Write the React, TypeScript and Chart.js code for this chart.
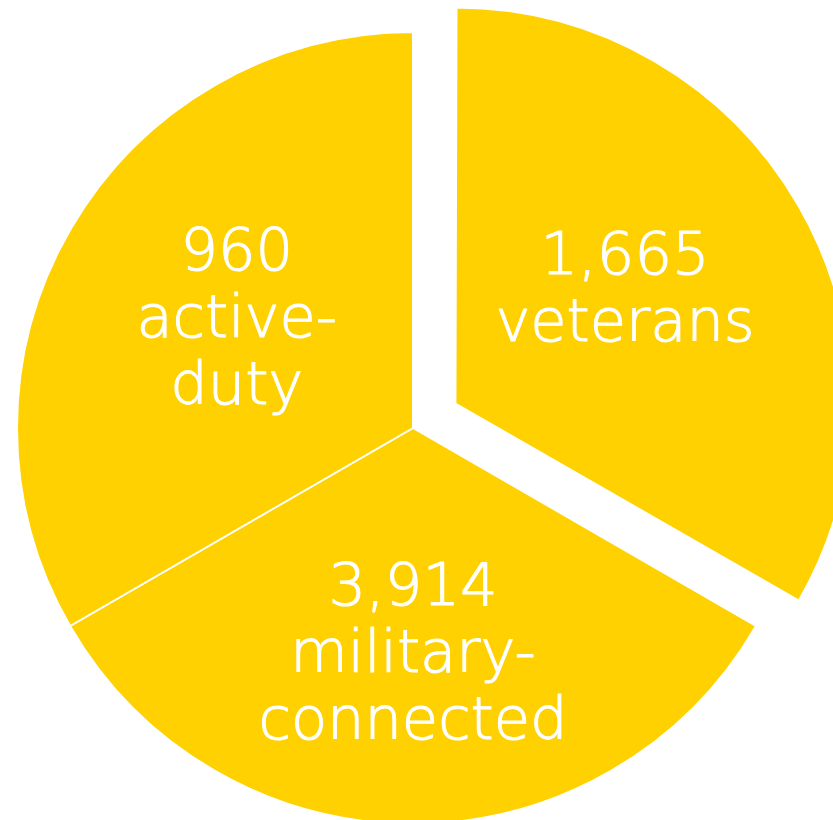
import React, { useEffect, useRef } from "react";
import { Chart, registerables } from "chart.js";

Chart.register(...registerables);

// Slices, clockwise from 12 o'clock
const categories = ["veterans", "military-connected", "active-duty"];
const countLabels = ["1,665", "3,914", "960"];
const labelLines = [["veterans"], ["military-", "connected"], ["active-", "duty"]];
// In the reference the three slices are drawn as equal thirds
const sliceShares = [1, 1, 1];
const explodedSlice = [true, false, false];

const YELLOW = "#FFD100";
const RADIUS = 396;
const EXPLODE = 49;
const LABEL_DIST = [206, 223, 209];
const LABEL_ANGLE_SHIFT = [-4.6, 0, 2.5]; // degrees
const FONT_SIZE = 59;
const LINE_H = 67;
const FONT_FAMILY = "'DejaVu Sans', sans-serif";

const fixExplodePlugin = {
  id: "fixExplode",
  afterDatasetsUpdate(chart: any) {
    const meta = chart.getDatasetMeta(0);
    meta.data.forEach((arc: any, i: number) => {
      if (!explodedSlice[i]) return;
      const circ = arc.endAngle - arc.startAngle;
      const fix = 1 - Math.sin(Math.min(Math.PI, circ));
      arc.outerRadius = RADIUS - EXPLODE * fix;
    });
  },
};

const labelPlugin = {
  id: "sliceLabels",
  afterDatasetsDraw(chart: any) {
    const ctx = chart.ctx;
    const meta = chart.getDatasetMeta(0);
    ctx.save();
    ctx.fillStyle = "#FFFFFF";
    ctx.strokeStyle = "#FFFFFF";
    ctx.lineWidth = 1.1;
    ctx.lineJoin = "round";
    ctx.textAlign = "center";
    ctx.textBaseline = "alphabetic";
    ctx.font = `200 ${FONT_SIZE}px ${FONT_FAMILY}`;
    meta.data.forEach((arc: any, i: number) => {
      const mid = (arc.startAngle + arc.endAngle) / 2;
      const shift = explodedSlice[i] ? EXPLODE : 0;
      const ox = arc.x + Math.cos(mid) * shift;
      const oy = arc.y + Math.sin(mid) * shift;
      const a = mid + (LABEL_ANGLE_SHIFT[i] * Math.PI) / 180;
      const cx = ox + Math.cos(a) * LABEL_DIST[i];
      const cy = oy + Math.sin(a) * LABEL_DIST[i];
      const lines = [countLabels[i], ...labelLines[i]];
      const n = lines.length;
      lines.forEach((t, k) => {
        const y = cy + (k - (n - 1) / 2) * LINE_H + FONT_SIZE * 0.36;
        ctx.fillText(t, cx, y);
        ctx.strokeText(t, cx, y);
      });
    });
    ctx.restore();
  },
};

export default function App() {
  const ref = useRef<HTMLCanvasElement | null>(null);
  useEffect(() => {
    document.body.style.margin = "0";
    if (!ref.current) return;
    const chart = new Chart(ref.current, {
      type: "pie",
      data: {
        labels: categories,
        datasets: [
          {
            data: sliceShares,
            backgroundColor: YELLOW,
            borderColor: "#FFFFFF",
            borderWidth: 2,
            offset: explodedSlice.map((e) => (e ? EXPLODE * 4 : 0)),
            hoverOffset: 0,
          },
        ],
      },
      options: {
        responsive: false,
        animation: false,
        radius: RADIUS,
        rotation: 0,
        layout: { padding: { left: 0, right: 7, top: 36, bottom: 0 } },
        plugins: {
          legend: { display: false },
          tooltip: { enabled: false },
        },
        events: [],
      } as any,
      plugins: [fixExplodePlugin, labelPlugin],
    });
    return () => chart.destroy();
  }, []);
  return (
    <div style={{ position: "absolute", left: 0, top: 0, width: 833, height: 820, overflow: "hidden", background: "#FFFFFF" }}>
      <canvas ref={ref} width={833} height={820} style={{ display: "block" }} />
    </div>
  );
}
